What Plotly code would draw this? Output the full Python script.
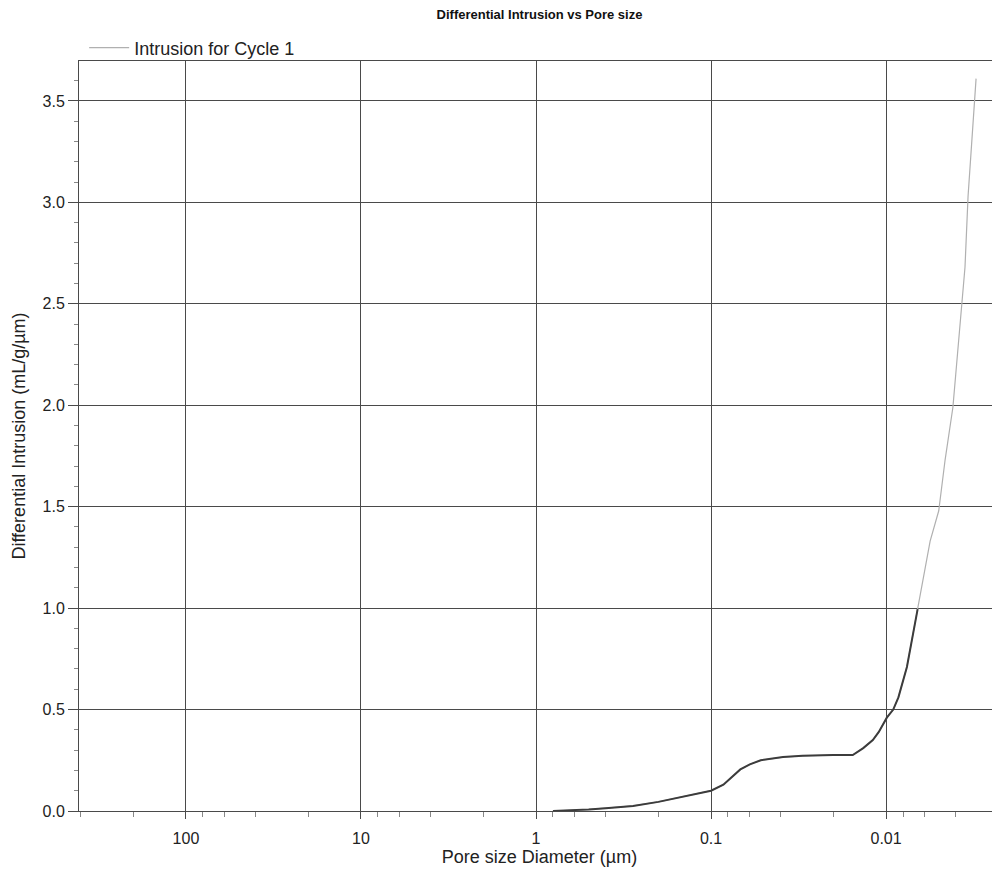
import plotly.graph_objects as go

# Pore size diameter (µm) and differential intrusion (mL/g/µm)
pore_size = [0.80, 0.665, 0.50, 0.40, 0.279, 0.20, 0.144, 0.12, 0.10, 0.085, 0.068,
             0.060, 0.052, 0.0388, 0.030, 0.0201, 0.0155, 0.0135, 0.0119, 0.0110,
             0.0099, 0.0091, 0.0085, 0.0076, 0.0071, 0.0066, 0.0061, 0.0056, 0.0050,
             0.0046, 0.00415, 0.00392, 0.00368, 0.00354, 0.0034, 0.00323, 0.00314,
             0.00306]
diff_intrusion = [0.0, 0.002, 0.008, 0.014, 0.025, 0.045, 0.07, 0.085, 0.10, 0.13, 0.205,
                  0.23, 0.25, 0.266, 0.272, 0.276, 0.276, 0.31, 0.35, 0.39,
                  0.46, 0.50, 0.56, 0.71, 0.85, 0.995, 1.17, 1.33, 1.48,
                  1.73, 1.99, 2.24, 2.48, 2.68, 3.03, 3.32, 3.50, 3.61]

x_tick_vals = [100, 10, 1, 0.1, 0.01]
x_tick_text = ["100", "10", "1", "0.1", "0.01"]
x_minor_vals = [m * 10 ** e for e in range(-3, 3) for m in (2, 4, 6, 8)]

FONT = "Liberation Sans, Arial, sans-serif"
GRID = "#4a4a4a"

n_dark = sum(1 for v in diff_intrusion if v <= 1.0)

fig = go.Figure()
fig.add_trace(go.Scatter(
    x=pore_size, y=diff_intrusion, mode="lines",
    line=dict(color="#b0b0b0", width=1.2),
    name="Intrusion for Cycle 1",
))
fig.add_trace(go.Scatter(
    x=pore_size[:n_dark], y=diff_intrusion[:n_dark], mode="lines",
    line=dict(color="#3c3c3c", width=2),
    showlegend=False,
))

fig.update_layout(
    width=1000, height=870,
    margin=dict(l=71, r=8, t=53, b=67, autoexpand=False),
    paper_bgcolor="white", plot_bgcolor="white",
    font=dict(family=FONT, size=16, color="#222"),
    title=dict(text="<b>Differential Intrusion vs Pore size</b>",
               x=0.5, xanchor="center", xref="paper",
               y=1 - 6 / 870, yanchor="middle", yref="container",
               font=dict(family=FONT, size=13, color="#111")),
    showlegend=True,
    legend=dict(x=0.0056, xanchor="left", y=(750 - (61 - 48)) / 750 + 2 * 13 / 750, yanchor="middle",
                itemwidth=40,
                bgcolor="rgba(0,0,0,0)", font=dict(family=FONT, size=18, color="#222")),
    xaxis=dict(
        type="log", range=[2.611, -2.651],
        tickmode="array", tickvals=x_tick_vals, ticktext=x_tick_text,
        ticks="outside", ticklen=7, tickcolor=GRID, ticklabelstandoff=6,
        showgrid=True, gridcolor=GRID, gridwidth=1,
        showline=True, linecolor=GRID, linewidth=1, mirror=True,
        zeroline=False, automargin=False,
        minor=dict(tickmode="array", tickvals=x_minor_vals, ticks="outside",
                   ticklen=5, tickcolor="#888", showgrid=False),
        title=dict(text="Pore size Diameter (µm)", font=dict(size=18), standoff=4),
        tickfont=dict(size=16),
    ),
    yaxis=dict(
        range=[0, 3.697],
        tickmode="linear", tick0=0, dtick=0.5, tickformat=".1f",
        ticks="outside", ticklen=10, tickcolor=GRID,
        showgrid=True, gridcolor=GRID, gridwidth=1,
        showline=True, linecolor=GRID, linewidth=1,
        zeroline=False, automargin=False,
        minor=dict(dtick=0.1, ticks="outside", ticklen=4, tickcolor="#888", showgrid=False),
        title=dict(text="Differential Intrusion (mL/g/µm)", font=dict(size=18), standoff=12),
        tickfont=dict(size=16),
    ),
)

fig.write_html("out.html")
